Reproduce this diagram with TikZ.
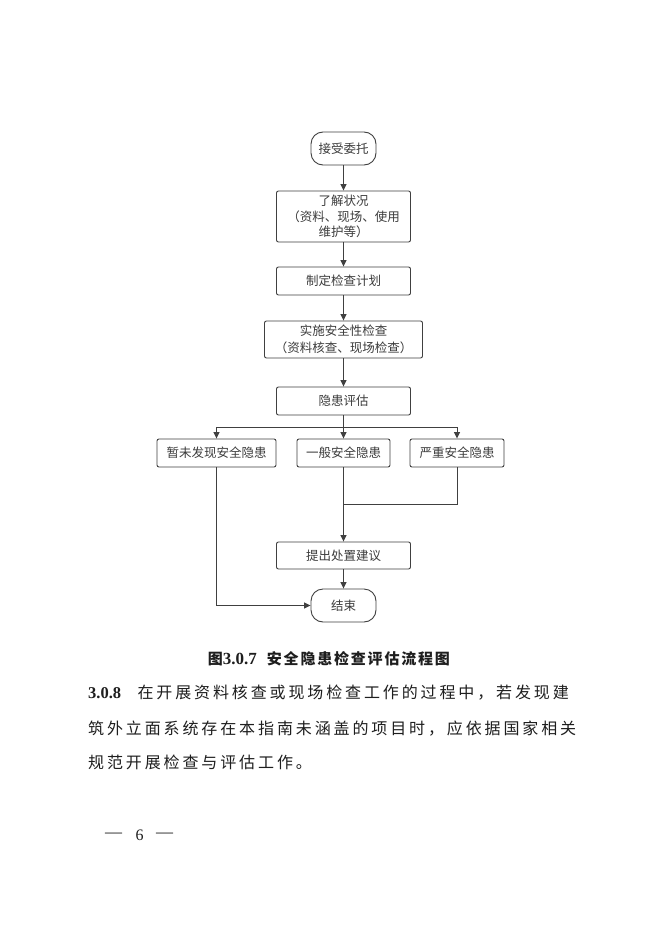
\documentclass[tikz,border=0pt]{standalone}
\usepackage{fontspec}
\usetikzlibrary{arrows.meta}
\newfontfamily\cjk{Noto Sans CJK SC}
\newfontfamily\serifr{Liberation Serif}
\makeatletter
\newcommand\pitched[2]{\@tfor\pt@c:=#2\do{\makebox[#1][l]{\pt@c}}}
\makeatother
\definecolor{linec}{HTML}{404040}
\definecolor{boxtext}{HTML}{3C3C3C}
\definecolor{bodytext}{HTML}{1E1E1E}
\tikzset{
  procbox/.style={draw=linec, line width=0.9pt, rounded corners=2pt, inner sep=0pt,
    align=center, text=boxtext, font=\cjk\fontsize{12.5}{15.5}\selectfont},
  termbox/.style={procbox, rounded corners=12pt},
  arr/.style={draw=linec, line width=0.9pt, -{Triangle[length=6.5pt,width=6pt]}},
  plainline/.style={draw=linec, line width=0.9pt},
  bodyline/.style={anchor=west, inner sep=0pt, text=bodytext, font=\cjk\fontsize{16}{20}\selectfont},
  capline/.style={anchor=west, inner sep=0pt, text=bodytext, font=\cjk\fontsize{15}{18}\selectfont\bfseries}
}
\begin{document}
\begin{tikzpicture}[x=1pt,y=-1pt]
\useasboundingbox[fill=white] (0,0) rectangle (662,936);
% nodes
\node[termbox, minimum width=65pt, minimum height=33pt] (start) at (343.5,148.5) {接受委托};
\node[procbox, minimum width=134pt, minimum height=51pt] (know) at (343.5,216.5) {了解状况\\（资料、现场、使用\\维护等）};
\node[procbox, minimum width=134pt, minimum height=28pt] (plan) at (343.5,281) {制定检查计划};
\node[procbox, minimum width=158pt, minimum height=37pt, font=\cjk\fontsize{12.5}{17}\selectfont] (impl) at (343.5,339.5) {实施安全性检查\\（资料核查、现场检查）};
\node[procbox, minimum width=134pt, minimum height=28pt] (eval) at (343.5,401) {隐患评估};
\node[procbox, minimum width=119pt, minimum height=28pt] (b1) at (216.5,453) {暂未发现安全隐患};
\node[procbox, minimum width=93pt, minimum height=28pt] (b2) at (343.5,453) {一般安全隐患};
\node[procbox, minimum width=94pt, minimum height=28pt] (b3) at (457,453) {严重安全隐患};
\node[procbox, minimum width=134pt, minimum height=27pt] (prop) at (343.5,555.5) {提出处置建议};
\node[termbox, minimum width=65pt, minimum height=33pt] (end) at (343.5,605.5) {结束};
\coordinate (br) at (343.5,427);
\coordinate (mg) at (343.5,504);
% connectors
\draw[arr] (start) -- (know);
\draw[arr] (know) -- (plan);
\draw[arr] (plan) -- (impl);
\draw[arr] (impl) -- (eval);
\draw[arr] (eval) -- (b2);
\draw[arr] (br) -| (b1.north);
\draw[arr] (br) -| (b3.north);
\draw[arr] (b2) -- (prop);
\draw[plainline] (b3.south) |- (mg);
\draw[arr] (prop) -- (end);
\draw[arr] (b1.south) |- (end.west);
% caption
\node[capline] (capA) at (207.7,659) {图{\serifr\fontsize{17}{18}\selectfont 3.0.7}};
\node[capline] (capB) at (266.7,659) {\pitched{16.8pt}{安全隐患检查评估流程图}};
% body text
\node[bodyline, font=\serifr\bfseries\fontsize{16.5}{20}\selectfont] (num) at (88,693) {3.0.8};
\node[bodyline] (l1) at (137.3,693) {\pitched{18.88pt}{在开展资料核查或现场检查工作的过程中，若发现建}};
\node[bodyline] (l2) at (88,728.5) {\pitched{18.88pt}{筑外立面系统存在本指南未涵盖的项目时，应依据国家相关}};
\node[bodyline] (l3) at (88,762) {\pitched{18.88pt}{规范开展检查与评估工作。}};
% page number
\node[inner sep=0pt, text=bodytext, font=\serifr\fontsize{17}{20}\selectfont] (d1) at (113.5,835) {—};
\node[inner sep=0pt, text=bodytext, font=\serifr\fontsize{16}{20}\selectfont] (pg) at (139.5,835) {6};
\node[inner sep=0pt, text=bodytext, font=\serifr\fontsize{17}{20}\selectfont] (d2) at (164.5,835) {—};
\end{tikzpicture}
\end{document}
